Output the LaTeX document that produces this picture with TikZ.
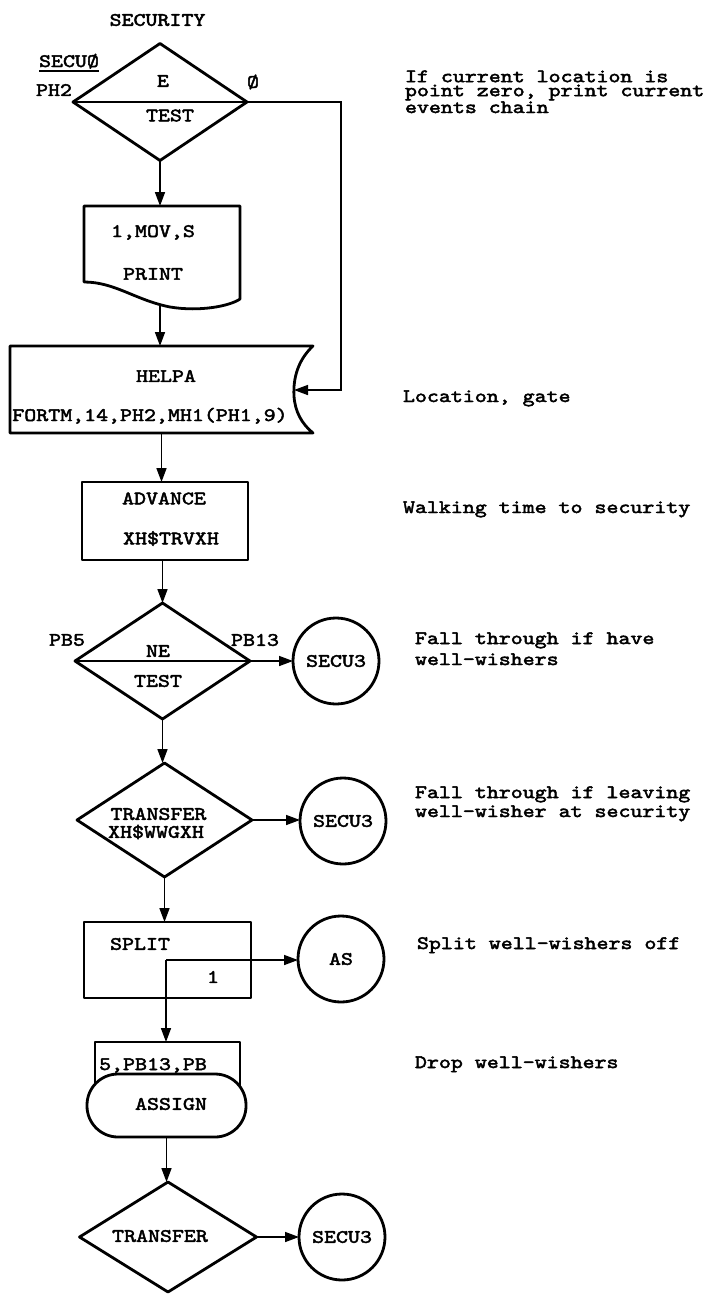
\documentclass[tikz,border=0pt]{standalone}
\usepackage{fontspec}
\usetikzlibrary{shapes.geometric,arrows.meta}
\newfontfamily\typew{lmmono10-regular}[Extension=.otf,FakeStretch=1.2,FakeBold=2.5]
\newcommand{\tw}{\typew\fontsize{19}{14}\selectfont}
\tikzset{
  shp/.style={draw, line width=2.8pt, line join=round},
  con/.style={draw, line width=1.6pt, -{Triangle[length=14pt,width=10pt]}},
  lab/.style={font=\tw, inner sep=0pt, outer sep=0pt},
  dia/.style={shp, diamond, inner sep=0pt, outer sep=0pt},
  circ/.style={shp, circle, minimum size=86pt, inner sep=0pt, outer sep=0pt, font=\tw},
  box/.style={shp, rectangle, inner sep=0pt, outer sep=0pt},
  ph/.style={rectangle, inner sep=0pt, outer sep=0pt},
  note/.style={lab, anchor=base west, align=left}
}
\begin{document}
\begin{tikzpicture}[x=1pt,y=-1pt]
\useasboundingbox (0,0) rectangle (711,1294);
% title
\node[lab] (title) at (157.5,20) {SECURITY};
% first test
\node[dia, minimum width=174pt, minimum height=117pt] (d1) at (160,102) {};
\draw[line width=2.8pt] (d1.west) -- (d1.east);
\node[lab] (d1a) at (163,81) {E};
\node[lab] (d1b) at (170,115.5) {TEST};
\node[lab, anchor=base] (secu0) at (69,67) {SECUØ};
\draw[line width=2pt] ([yshift=-4pt]secu0.base west) -- ([yshift=-4pt]secu0.base east);
\node[lab] (ph2) at (54,90) {PH2};
\node[lab] (zero) at (253,82) {Ø};
% print
\node[ph, minimum width=156pt, minimum height=94pt] (p) at (162,253) {};
\draw[shp] (84,282) -- (84,206) -- (240,206) -- (240,299)
  .. controls (230,306) and (200,312) .. (170,307)
  .. controls (135,300) and (115,282) .. (84,282) -- cycle;
\node[lab, anchor=base] (p1) at (153,237) {1,MOV,S};
\node[lab] (p2) at (153,274) {PRINT};
% HELPA
\node[ph, minimum width=303pt, minimum height=87pt] (helpa) at (161.5,389.5) {};
\draw[shp] (313,346) -- (10,346) -- (10,433) -- (313,433)
  .. controls (302,424) and (295,412) .. (294,396)
  .. controls (293,378) and (298,360) .. (313,346) -- cycle;
\node[lab] (h1) at (166,376) {HELPA};
\node[lab, anchor=base] (h2) at (150,421) {FORTM,14,PH2,MH1(PH1,9)};
% connectors top
\coordinate (hc) at (341,102);
\coordinate (hin) at (294,390);
\draw[con] (d1.east) -- (hc) |- (hin);
\draw[con] (d1.south) -- (d1.south |- p.north);
\coordinate (pout) at (160,305);
\draw[con] (pout) -- (pout |- helpa.north);
% ADVANCE
\node[box, minimum width=166pt, minimum height=78pt] (adv) at (165,521) {};
\node[lab] (a1) at (164,498.5) {ADVANCE};
\node[lab] (a2) at (171,538.5) {XH\$TRVXH};
\draw[con] (helpa.south) -- (helpa.south |- adv.north);
% second test
\node[dia, minimum width=175pt, minimum height=116pt] (d2) at (162.5,661) {};
\draw[line width=2.8pt] (d2.west) -- (d2.east);
\node[lab] (d2a) at (158,651) {NE};
\node[lab] (d2b) at (158,681) {TEST};
\node[lab] (pb5) at (67,640) {PB5};
\node[lab] (pb13) at (255,640) {PB13};
\draw[con] (d2.north |- adv.south) -- (d2.north);
\node[circ] (c1) at (336,661) {SECU3};
\draw[con] (d2.east) -- (c1.west);
% transfer 1
\node[dia, minimum width=175pt, minimum height=114pt] (d3) at (164.5,820) {};
\node[lab] (d3a) at (158.5,814) {TRANSFER};
\node[lab] (d3b) at (156,832) {XH\$WWGXH};
\draw[con] (d2.south) -- (d2.south |- d3.north);
\node[circ] (c2) at (343,821) {SECU3};
\draw[con] (d3.east) -- (d3.east -| c2.west);
% split
\node[box, minimum width=167pt, minimum height=76pt] (split) at (167.5,960) {};
\node[lab] (s1) at (140,944) {SPLIT};
\node[lab] (s2) at (213,977) {1};
\draw[con] (d3.south) -- (d3.south |- split.north);
\node[circ] (as) at (341,959) {AS};
\coordinate (sj) at (166,960);
\draw[con] (sj) -- (sj -| as.west);
% assign
\node[ph, minimum width=159pt, minimum height=95pt] (asg) at (166.5,1089.5) {};
\draw[shp] (95,1090) -- (95,1042) -- (240,1042) -- (240,1090);
\draw[shp, fill=white, rounded corners=31pt] (87,1074) rectangle (246,1137);
\node[lab, anchor=base] (g1) at (153,1070) {5,PB13,PB};
\node[lab] (g2) at (171,1104) {ASSIGN};
\draw[con] (sj) -- (sj |- asg.north);
% transfer 2
\node[dia, minimum width=177pt, minimum height=110pt] (d4) at (168,1237) {};
\node[lab] (d4a) at (160,1236) {TRANSFER};
\draw[con] (asg.south) -- (asg.south |- d4.north);
\node[circ] (c4) at (342,1237) {SECU3};
\draw[con] (d4.east) -- (c4.west);
% notes
\node[note] (n1) at (405,113) {If current location is\\point zero, print current\\events chain};
\node[note] (n2) at (403,402) {Location, gate};
\node[note] (n3) at (403,513) {Walking time to security};
\node[note] (n4) at (415,665) {Fall through if have\\[4pt]well-wishers};
\node[note] (n5) at (415,817) {Fall through if leaving\\[2pt]well-wisher at security};
\node[note] (n6) at (417,949) {Split well-wishers off};
\node[note] (n7) at (415,1068) {Drop well-wishers};
\end{tikzpicture}
\end{document}
